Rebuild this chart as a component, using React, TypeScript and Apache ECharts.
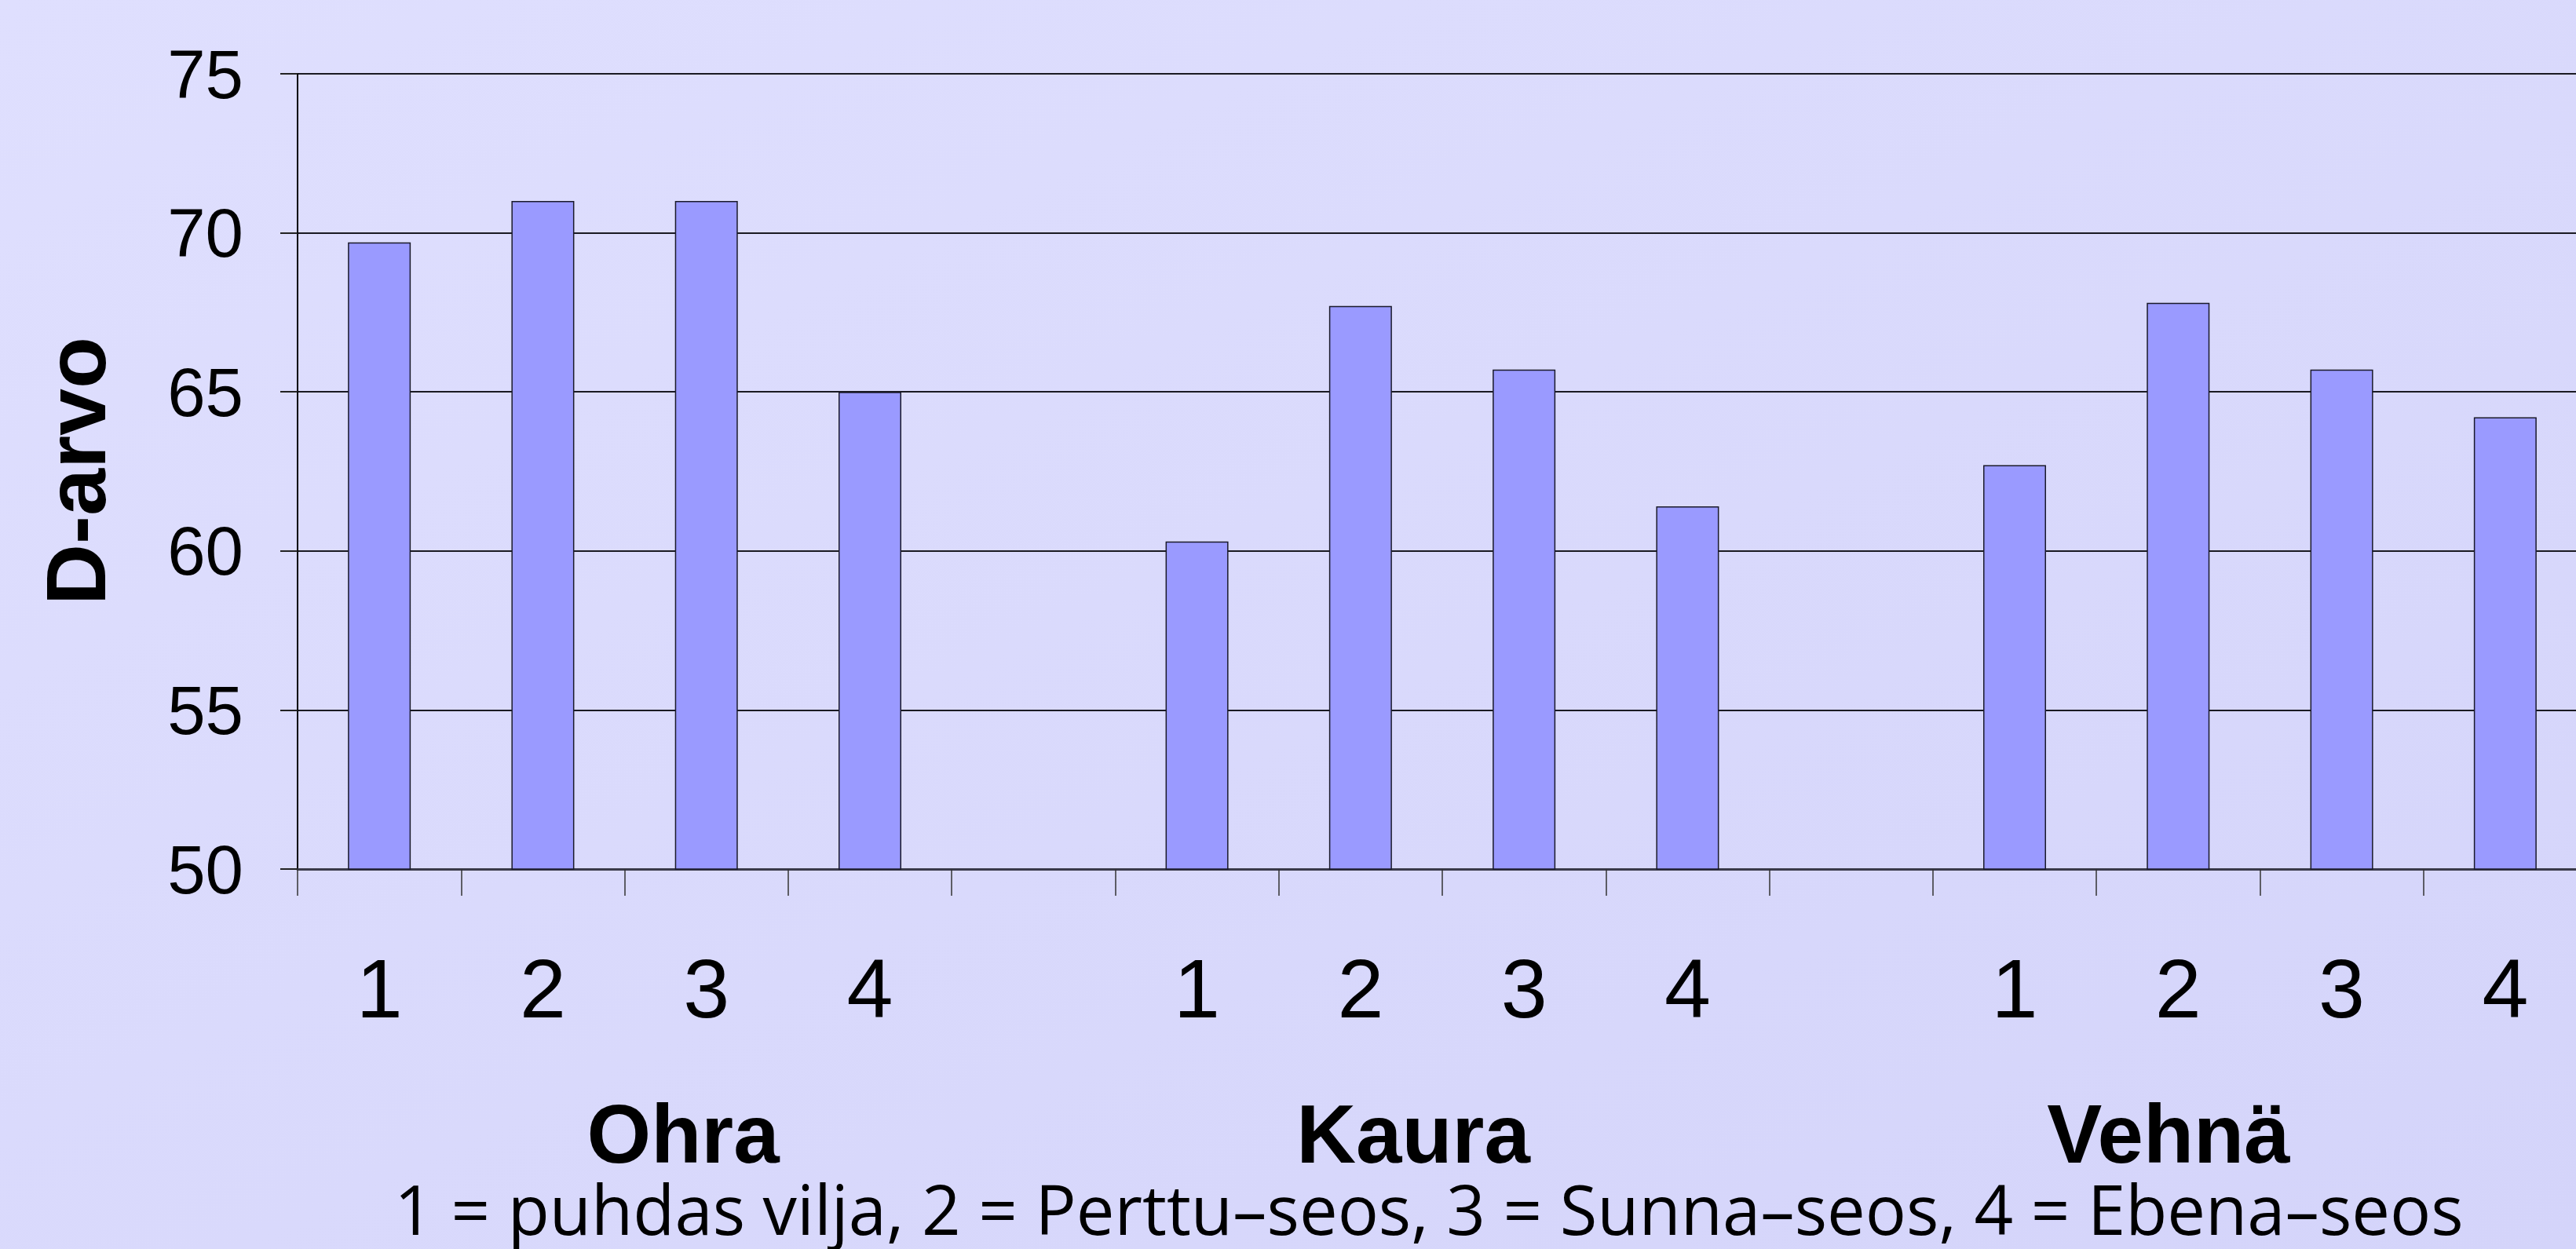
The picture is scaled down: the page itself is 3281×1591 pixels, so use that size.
import React, { useEffect, useRef } from "react";
import * as echarts from "echarts";

const groups = ["Ohra", "Kaura", "Vehnä"];
const treatments = ["1", "2", "3", "4"];
const ohra = [69.7, 71.0, 71.0, 65.0];
const kaura = [60.3, 67.7, 65.7, 61.4];
const vehna = [62.7, 67.8, 65.7, 64.2];
const yMin = 50;
const yMax = 75;
const yStep = 5;
const yName = "D-arvo";
const footnote = "1 = puhdas vilja, 2 = Perttu–seos, 3 = Sunna–seos, 4 = Ebena–seos";

export default function App() {
  const ref = useRef<HTMLDivElement>(null);
  useEffect(() => {
    if (!ref.current) return;
    const chart = echarts.init(ref.current, null, { renderer: "svg" });
    const categories = [...treatments, "", ...treatments, "", ...treatments];
    const values = [...ohra, null, ...kaura, null, ...vehna];

    // fit footnote width
    let footScale = 1;
    try {
      const c = document.createElement("canvas").getContext("2d");
      if (c) {
        c.font = "88px 'Open Sans'";
        const w = c.measureText(footnote).width;
        if (w > 0) footScale = 2637 / w;
      }
    } catch (e) {}

    const groupX = [870, 1800, 2762];

    chart.setOption({
      animation: false,
      backgroundColor: {
        type: "linear",
        x: 0,
        y: 0,
        x2: 1,
        y2: 1,
        colorStops: [
          { offset: 0, color: "#DFDFFE" },
          { offset: 1, color: "#D4D4FA" },
        ],
      },
      grid: {
        left: 379,
        top: 94,
        height: 1013,
        width: 2916,
        containLabel: false,
        outerBoundsMode: "none",
      },
      xAxis: {
        type: "category",
        data: categories,
        boundaryGap: true,
        axisLine: { show: true, lineStyle: { color: "#3a3a4a", width: 3 } },
        axisTick: { show: true, length: 34, lineStyle: { color: "#333", width: 1.5 } },
        axisLabel: {
          show: true,
          interval: 0,
          margin: 99,
          fontSize: 106,
          lineHeight: 106,
          color: "#000",
          fontFamily: "'Liberation Sans', Arial, sans-serif",
        },
        splitLine: { show: false },
      },
      yAxis: {
        type: "value",
        min: yMin,
        max: yMax,
        interval: yStep,
        axisLine: { show: true, lineStyle: { color: "#000", width: 2 } },
        axisTick: { show: true, length: 22, lineStyle: { color: "#222", width: 2 } },
        axisLabel: {
          margin: 69,
          fontSize: 87,
          color: "#000",
          fontFamily: "'Liberation Sans', Arial, sans-serif",
        },
        splitLine: { show: true, lineStyle: { color: "#1a1a22", width: 2 } },
      },
      series: [
        {
          type: "bar",
          data: values,
          barWidth: 80,
          itemStyle: { color: "#9A9AFF", borderColor: "#1a1a2a", borderWidth: 1.5 },
        },
      ],
      graphic: [
        {
          type: "text",
          x: 96,
          y: 600,
          rotation: Math.PI / 2,
          style: {
            text: yName,
            font: "bold 108px 'Liberation Sans', Arial, sans-serif",
            fill: "#000",
            textAlign: "center",
            textVerticalAlign: "middle",
          },
        },
        ...groups.map((g, i) => ({
          type: "text",
          x: groupX[i],
          y: 1444,
          style: {
            text: g,
            font: "bold 105px 'Liberation Sans', Arial, sans-serif",
            fill: "#000",
            textAlign: "center",
            textVerticalAlign: "middle",
          },
        })),
        {
          type: "text",
          x: 1820,
          y: 1539,
          scaleX: footScale,
          style: {
            text: footnote,
            font: "88px 'Open Sans', sans-serif",
            lineHeight: 88,
            fill: "#000",
            textAlign: "center",
            textVerticalAlign: "middle",
          },
        },
      ],
    });
    return () => chart.dispose();
  }, []);
  return (
    <div
      ref={ref}
      style={{ position: "fixed", left: 0, top: 0, width: 3281, height: 1591 }}
    />
  );
}
